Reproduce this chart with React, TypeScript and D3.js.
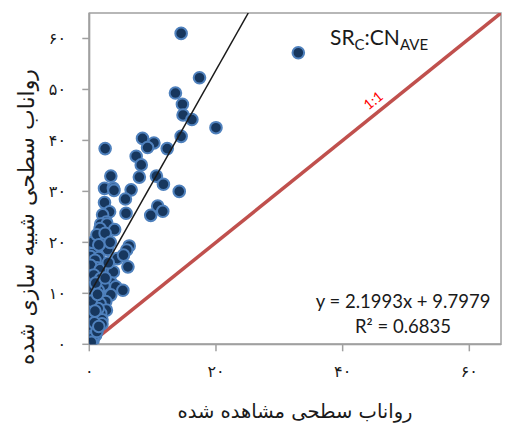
import React from "react";
import * as d3 from "d3";

const xTicks = [0, 20, 40, 60];
const yTicks = [0, 10, 20, 30, 40, 50, 60];
const slope = 2.1993;
const intercept = 9.7979;
const eqText = "y = 2.1993x + 9.7979";
const r2Text = "R² = 0.6835";
const xTitle = "رواناب سطحی مشاهده شده";
const yTitle = "رواناب سطحی شبیه سازی شده";

// observed (x) vs simulated (y)
const observed = [
  14.5, 33.0, 17.4, 13.6, 14.7, 14.8, 16.2, 20.0, 14.5, 8.4, 10.2, 9.2, 12.3, 2.5, 7.4, 8.2,
  3.4, 7.9, 10.6, 11.7, 14.2, 2.4, 3.8, 3.9, 6.6, 5.7, 2.4, 10.8, 11.6, 9.7, 5.8, 3.2,
  2.1, 2.7, 1.8, 2.8, 4.0, 1.7, 1.9, 6.3, 5.9, 0.6, 2.9, 0.8, 0.2, 1.5, 4.4, 5.4,
  0.9, 6.1, 1.2, 2.2, 0.2, 1.7, 3.8, 0.1, 0.7, 1.8, 3.5, 2.3, 4.2, 5.3, 0.4, 1.4,
  0.6, 2.6, 3.4, 2.6, 1.7, 0.0, 2.7, 1.8, 0.0, 0.2, 0.4, 2.0, 2.0, 0.1, 0.2, 0.1,
  1.0, 0.6, 0.5, 0.3, 1.2, 0.8, 1.4, 0.3, 1.0, 0.5, 1.2, 2.5, 3.3, 1.5, 3.0, 2.5,
  1.3, 0.9, 1.5,
];
const simulated = [
  61.0, 57.2, 52.3, 49.3, 47.1, 45.0, 44.1, 42.5, 40.8, 40.4, 39.5, 38.6, 38.4, 38.4, 36.9, 35.2,
  33.0, 32.8, 33.0, 31.4, 30.0, 30.6, 30.6, 30.2, 30.3, 28.5, 27.8, 27.1, 26.1, 25.3, 25.7, 26.0,
  25.4, 24.0, 23.6, 23.6, 22.5, 22.7, 20.9, 19.3, 18.5, 19.0, 18.6, 18.2, 17.2, 17.0, 16.8, 17.5,
  16.5, 15.2, 15.0, 14.8, 15.5, 14.6, 14.2, 13.4, 13.6, 12.9, 12.0, 11.6, 11.3, 10.6, 11.0, 10.6,
  9.3, 9.0, 9.7, 8.4, 8.0, 7.4, 6.7, 6.1, 6.4, 5.4, 5.1, 4.8, 4.0, 2.8, 3.1, 1.5,
  1.8, 0.8, 1.2, 0.4, 2.5, 4.2, 7.0, 8.5, 12.0, 20.0, 21.5, 21.8, 20.0, 19.5, 16.0, 13.0,
  9.8, 6.5, 3.5,
];

const fa = (n: number) => String(n).replace(/\d/g, (d) => "۰۱۲۳۴۵۶۷۸۹"[+d]);

export default function App() {
  const W = 516, H = 425;
  const left = 89.3, right = 501, top = 13, bottom = 344.3;
  const xs = d3.scaleLinear().domain([0, 65]).range([left, right]);
  const ys = d3.scaleLinear().domain([0, 65]).range([bottom, top]);
  const pts = observed.map((x, i) => [x, simulated[i]] as [number, number]);
  const line = d3.line<[number, number]>().x((d) => xs(d[0])).y((d) => ys(d[1]));
  const xEnd = (65 - intercept) / slope;
  const trend: [number, number][] = [[0, intercept], [xEnd, 65]];
  const oneToOne: [number, number][] = [[0, 0], [65, 65]];
  const angle = -Math.atan2(ys(0) - ys(1), xs(1) - xs(0)) * 180 / Math.PI;
  const arabicFont = "'DejaVu Sans', sans-serif";
  const latinFont = "Lato, 'Open Sans', sans-serif";
  return (
    <div style={{ position: "absolute", left: 0, top: 0 }}>
      <svg width={W} height={H} style={{ display: "block", background: "#fff" }}>
        <defs>
          <clipPath id="plot">
            <rect x={left} y={top} width={right - left} height={bottom - top} />
          </clipPath>
        </defs>
        {/* frame */}
        <rect x={left} y={top} width={right - left} height={bottom - top} fill="none" stroke="#a0a0a0" strokeWidth={1.5} />
        <line x1={left} x2={left} y1={top} y2={bottom} stroke="#a0a0a0" strokeWidth={2} />
        <line x1={left} x2={right} y1={bottom} y2={bottom} stroke="#a0a0a0" strokeWidth={2} />
        {yTicks.map((t) => (
          <g key={"y" + t}>
            <line x1={left - 7} x2={left} y1={ys(t)} y2={ys(t)} stroke="#a0a0a0" strokeWidth={1.5} />
            <text x={66} y={ys(t)} dy="0.35em" textAnchor="end" fontFamily={arabicFont} fontSize={16} fill="#1a1a1a">{fa(t)}</text>
          </g>
        ))}
        {xTicks.map((t) => (
          <g key={"x" + t}>
            <line x1={xs(t)} x2={xs(t)} y1={bottom} y2={bottom + 7} stroke="#a0a0a0" strokeWidth={1.5} />
            <text x={xs(t)} y={371} dy="0.35em" textAnchor="middle" fontFamily={arabicFont} fontSize={16} fill="#1a1a1a">{fa(t)}</text>
          </g>
        ))}
        <g clipPath="url(#plot)">
          <path d={line(oneToOne) || ""} stroke="#c0504d" strokeWidth={3.5} fill="none" />
          {pts.map((p, i) => (
            <circle key={i} cx={xs(p[0])} cy={ys(p[1])} r={5.8} fill="#17375e" stroke="#4f81bd" strokeWidth={2} />
          ))}
          <path d={line(trend) || ""} stroke="#1a1a1a" strokeWidth={1.5} fill="none" />
        </g>
        <g transform={`translate(${xs(46)},${ys(46)}) rotate(${angle})`}>
          <text x={0} y={-7} textAnchor="middle" fontFamily={latinFont} fontSize={14} fill="#ff0000">1:1</text>
        </g>
        <text x={330} y={45} fontFamily={latinFont} fontSize={21} fill="#1a1a1a">
          SR<tspan fontSize={15} dy={5}>C</tspan><tspan dy={-5}>:CN</tspan><tspan fontSize={15} dy={5}>AVE</tspan>
        </text>
        <text x={403} y={308} textAnchor="middle" fontFamily={latinFont} fontSize={18.5} fill="#1a1a1a">{eqText}</text>
        <text x={403} y={333} textAnchor="middle" fontFamily={latinFont} fontSize={18.5} fill="#1a1a1a">{r2Text}</text>
        <text x={295} y={411} dy="0.35em" textAnchor="middle" fontFamily={arabicFont} fontSize={19.5} fill="#1a1a1a" direction="rtl">{xTitle}</text>
        <text transform={`translate(26,217) rotate(-90)`} dy="0.35em" textAnchor="middle" fontFamily={arabicFont} fontSize={22} fill="#1a1a1a" direction="rtl">{yTitle}</text>
      </svg>
    </div>
  );
}
